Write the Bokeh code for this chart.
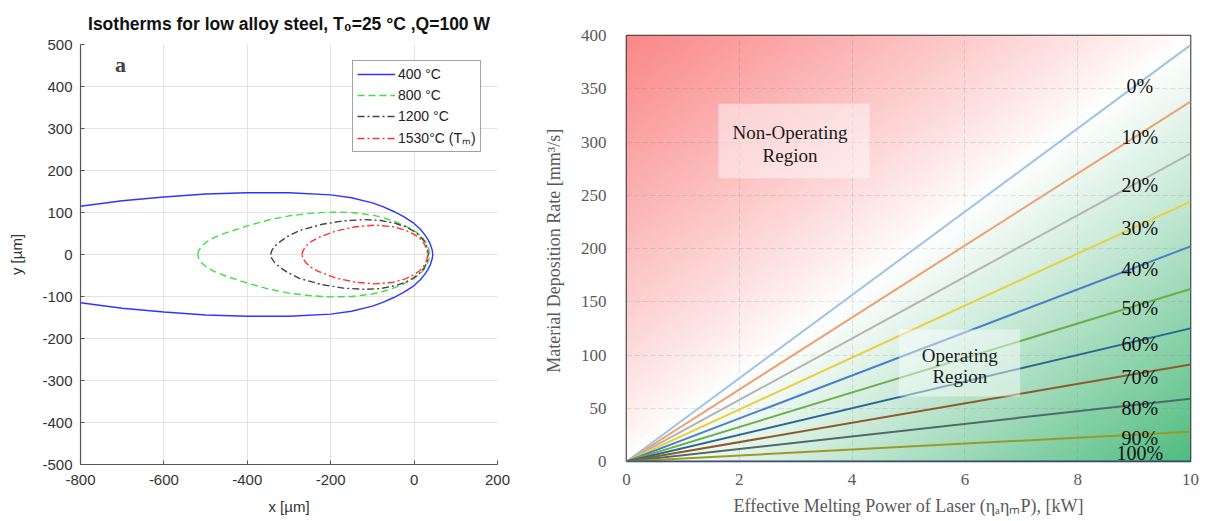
import numpy as np
from bokeh.plotting import figure
from bokeh.layouts import row
from bokeh.models import FixedTicker, Range1d, Legend, LegendItem, BoxAnnotation, Label
from bokeh.embed import file_html
from bokeh.resources import INLINE

# ---------------- Left panel data (upper halves of the isotherms, mirrored about y=0)
iso_labels = ["400 °C", "800 °C", "1200 °C", "1530°C (Tₘ)"]
x400 = [-800, -700, -600, -500, -400, -300, -200, -150, -100, -75, -50, -25, 0, 15, 25, 33, 39, 43, 45]
y400 = [115, 128, 137, 144, 147, 147, 142, 135, 123, 114, 103, 90, 74, 60, 48, 36, 24, 12, 0]
x800 = [-519, -516, -509, -498, -480, -450, -400, -350, -300, -250, -200, -150, -100, -75, -50, -25, 0, 12, 22, 30, 35, 38]
y800 = [0, 10, 20, 30, 40, 52, 68, 82, 92, 98, 101, 100, 94, 88, 80, 70, 57, 48, 38, 26, 14, 0]
x1200 = [-344, -341, -334, -322, -305, -275, -220, -170, -120, -80, -45, -20, 0, 15, 25, 31, 34]
y1200 = [0, 10, 20, 30, 42, 57, 72, 80, 83, 81, 74, 66, 55, 43, 31, 18, 0]
x1530 = [-269, -266, -259, -248, -230, -188, -140, -93, -50, -21, 0, 14, 24, 30, 33]
y1530 = [0, 10, 20, 30, 40, 56, 66, 70, 66, 58, 48, 38, 26, 14, 0]
x_ticks_left = [-800, -600, -400, -200, 0, 200]
y_ticks_left = [-500, -400, -300, -200, -100, 0, 100, 200, 300, 400, 500]

# ---------------- Right panel data
power_kw = [0, 10]
rate_at_10kw = [391, 338, 289, 244, 202, 162, 125, 91, 59, 28, 0]
pct_labels = ["0%", "10%", "20%", "30%", "40%", "50%", "60%", "70%", "80%", "90%", "100%"]
line_colors = ["#9DC3E6", "#F0A070", "#B4B4B4", "#E8D040", "#4A80C8", "#6CAF4A",
               "#2A6890", "#8D5A2A", "#4F6A6A", "#9A9A28", "#264478"]
x_ticks_right = [0, 2, 4, 6, 8, 10]
y_ticks_right = [0, 50, 100, 150, 200, 250, 300, 350, 400]


def mirror(xs, ys):
    X = list(xs) + list(xs[::-1][1:])
    Y = list(ys) + [-v for v in ys[::-1][1:]]
    return X, Y


SANS = "Liberation Sans"
SERIF = "Liberation Serif"

# ================= Left figure
p1 = figure(width=540, height=519, output_backend="svg", toolbar_location=None,
            x_range=Range1d(-800, 200), y_range=Range1d(-500, 500),
            min_border_left=80, min_border_right=43, min_border_top=44, min_border_bottom=55)
p1.frame_align = False
p1.outline_line_color = None
p1.title.text = "Isotherms for low alloy steel, T₀=25 °C ,Q=100 W"
p1.title.align = "center"
p1.title.text_font = SANS
p1.title.text_font_size = "17.5px"
p1.title.text_font_style = "bold"
p1.title.text_color = "#111111"
p1.title.standoff = 22

p1.xaxis.ticker = FixedTicker(ticks=x_ticks_left)
p1.yaxis.ticker = FixedTicker(ticks=y_ticks_left)
p1.xaxis.major_label_overrides = {t: str(t) for t in x_ticks_left}
p1.yaxis.major_label_overrides = {t: str(t) for t in y_ticks_left}
for ax in (p1.xaxis[0], p1.yaxis[0]):
    ax.axis_line_color = "#555555"
    ax.axis_line_width = 1.2
    ax.major_tick_in = 4
    ax.major_tick_out = 0
    ax.major_tick_line_color = "#555555"
    ax.minor_tick_line_color = None
    ax.major_label_text_font = SANS
    ax.major_label_text_font_size = "15px"
    ax.major_label_text_color = "#333333"
    ax.axis_label_text_font = SANS
    ax.axis_label_text_font_size = "15px"
    ax.axis_label_text_font_style = "normal"
    ax.axis_label_text_color = "#333333"
p1.xaxis.axis_label = "x [µm]"
p1.yaxis.axis_label = "y [µm]"
p1.xaxis.major_label_standoff = 10
p1.yaxis.major_label_standoff = 8
p1.xaxis.axis_label_standoff = 10
p1.yaxis.axis_label_standoff = 14
p1.grid.grid_line_color = "#e3e3e3"
p1.grid.grid_line_width = 1

styles = [("#3333ff", "solid", 1.4), ("#40e040", "7 4", 1.4),
          ("#444444", "7 3 2 3", 1.4), ("#ff3333", "7 3 2 3", 1.4)]
items = []
for (xs, ys), lab, (c, d, w) in zip([(x400, y400), (x800, y800), (x1200, y1200), (x1530, y1530)],
                                     iso_labels, styles):
    X, Y = mirror(xs, ys)
    r = p1.line(X, Y, line_color=c, line_dash=d, line_width=w)
    items.append(LegendItem(label=lab, renderers=[r]))

leg = Legend(items=items, location=(272, 312))
leg.label_text_font = SANS
leg.label_text_font_size = "14px"
leg.label_text_color = "#222222"
leg.glyph_width = 38
leg.glyph_height = 18
leg.label_height = 18
leg.spacing = 3
leg.padding = 4
leg.margin = 0
leg.label_standoff = 3
leg.border_line_color = "#444444"
leg.border_line_width = 1.2
leg.background_fill_alpha = 1
p1.add_layout(leg, "center")

p1.add_layout(Label(x=-704, y=452, text="a", text_font=SERIF, text_font_size="22px",
                    text_font_style="bold", text_align="center", text_baseline="middle"))

# ================= Right figure
p2 = figure(width=664, height=518, output_backend="svg", toolbar_location=None,
            x_range=Range1d(0, 10), y_range=Range1d(0, 400),
            min_border_left=82, min_border_right=14, min_border_top=35, min_border_bottom=56)
p2.frame_align = False
p2.outline_line_color = "#333333"
p2.outline_line_width = 1.6

# background gradient (red top-left -> white along the diagonal -> green bottom-right)
ny, nx = 200, 300
U, V = np.meshgrid(np.linspace(0, 1, nx), np.linspace(0, 1, ny))
t = (U + (1 - V)) / 2.0
wr = np.clip((0.5 - t) * 2, 0, 1) ** 0.9
wg = np.clip((t - 0.5) * 2, 0, 1) ** 1.1
red = np.array([250, 136, 136])
green = np.array([80, 188, 128])
rgb = np.empty((ny, nx, 3))
for k in range(3):
    rgb[..., k] = 255 * (1 - wr - wg) + red[k] * wr + green[k] * wg
img = np.empty((ny, nx), dtype=np.uint32)
view = img.view(dtype=np.uint8).reshape((ny, nx, 4))
view[..., 0] = rgb[..., 0].astype(np.uint8)
view[..., 1] = rgb[..., 1].astype(np.uint8)
view[..., 2] = rgb[..., 2].astype(np.uint8)
view[..., 3] = 255
p2.image_rgba(image=[img], x=0, y=0, dw=10, dh=400, level="image")

p2.xaxis.ticker = FixedTicker(ticks=x_ticks_right)
p2.yaxis.ticker = FixedTicker(ticks=y_ticks_right)
for ax in (p2.xaxis[0], p2.yaxis[0]):
    ax.axis_line_color = None
    ax.major_tick_line_color = None
    ax.minor_tick_line_color = None
    ax.major_label_text_font = SERIF
    ax.major_label_text_font_size = "17px"
    ax.major_label_text_color = "#595959"
    ax.axis_label_text_font = SERIF
    ax.axis_label_text_font_size = "18px"
    ax.axis_label_text_font_style = "normal"
    ax.axis_label_text_color = "#595959"
p2.xaxis.axis_label = "Effective Melting Power of Laser (ηₐηₘP), [kW]"
p2.yaxis.axis_label = "Material Deposition Rate  [mm³/s]"
p2.xaxis.major_label_standoff = 6
p2.yaxis.major_label_standoff = 14
p2.xaxis.axis_label_standoff = 8
p2.yaxis.axis_label_standoff = 14
p2.grid.grid_line_color = "#7f7f7f"
p2.grid.grid_line_alpha = 0.22
p2.grid.grid_line_dash = "5 3"

for val, c in zip(rate_at_10kw, line_colors):
    p2.line(power_kw, [0, val], line_color=c, line_width=2.0)

for val, lab in zip(rate_at_10kw, pct_labels):
    ylab = max(val * 0.91 - 3, 8)
    p2.add_layout(Label(x=9.1, y=ylab, text=lab, text_font=SERIF, text_font_size="20px",
                        text_align="center", text_baseline="middle", text_color="#111111",
                        level="overlay"))

p2.add_layout(BoxAnnotation(left=1.63, right=4.31, bottom=266, top=336,
                            fill_color="white", fill_alpha=0.45, line_color=None))
p2.add_layout(BoxAnnotation(left=4.83, right=6.98, bottom=61, top=124,
                            fill_color="white", fill_alpha=0.45, line_color=None))
for x, y, s in [(2.9, 309, "Non-Operating"), (2.9, 287, "Region"),
                (5.91, 100, "Operating"), (5.91, 80, "Region")]:
    p2.add_layout(Label(x=x, y=y, text=s, text_font=SERIF, text_font_size="19px",
                        text_align="center", text_baseline="middle", text_color="#1a1a1a"))

layout = row(p1, p2)
open("out.html", "w").write(file_html(layout, INLINE))
